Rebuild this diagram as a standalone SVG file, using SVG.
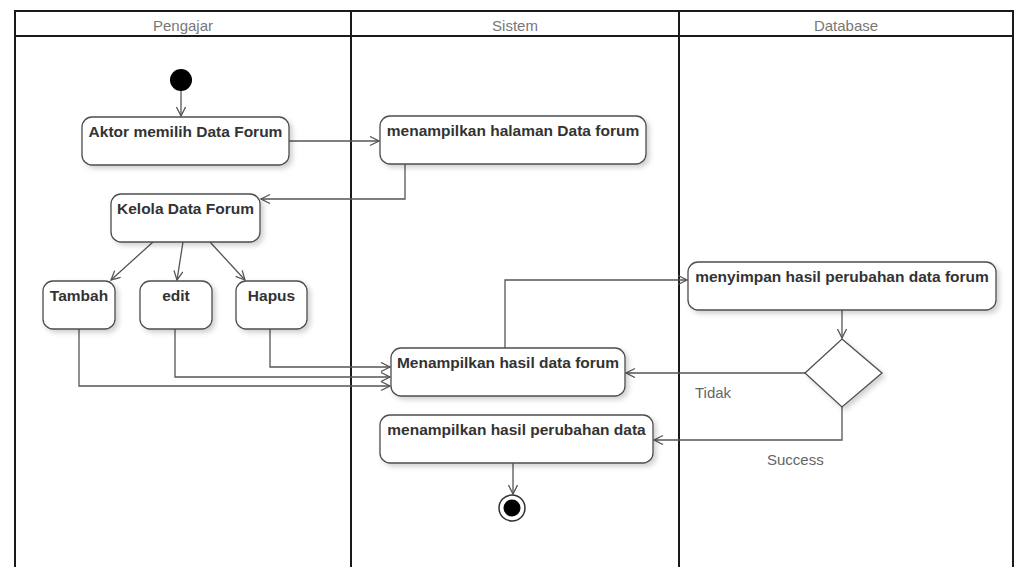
<svg xmlns="http://www.w3.org/2000/svg" width="1016" height="567" viewBox="0 0 1016 567">
  <style>
    .lane { fill: none; stroke: #1a1a1a; stroke-width: 2; }
    .lane-title { font-family: "Liberation Sans", Arial, sans-serif; font-size: 15px; fill: #777; text-anchor: middle; }
    .act { fill: #ffffff; stroke: #4d4d4d; stroke-width: 1.3; filter: url(#shadow); }
    .act-text { font-family: "Liberation Sans", Arial, sans-serif; font-size: 15.5px; font-weight: bold; fill: #333; text-anchor: middle; }
    .flow { fill: none; stroke: #555; stroke-width: 1.3; marker-end: url(#open-arrow); }
    .guard { font-family: "Liberation Sans", Arial, sans-serif; font-size: 15px; fill: #666; }
  </style>
  <defs>
    <marker id="open-arrow" markerWidth="12" markerHeight="12" refX="10" refY="5" orient="auto" markerUnits="userSpaceOnUse">
      <path d="M1,0.5 L10,5 L1,9.5" fill="none" stroke="#555" stroke-width="1.3"/>
    </marker>
    <filter id="shadow" x="-10%" y="-20%" width="130%" height="160%">
      <feDropShadow dx="3" dy="3" stdDeviation="2.5" flood-color="#000" flood-opacity="0.18"/>
    </filter>
  </defs>

  <rect width="1016" height="567" fill="#ffffff"/>

  <!-- swimlanes -->
  <g id="lanes">
    <rect class="lane" x="15" y="11" width="998" height="580"/>
    <line class="lane" x1="15" y1="36" x2="1013" y2="36"/>
    <line class="lane" x1="351" y1="11" x2="351" y2="591"/>
    <line class="lane" x1="679" y1="11" x2="679" y2="591"/>
    <text class="lane-title" x="183" y="31">Pengajar</text>
    <text class="lane-title" x="515" y="31">Sistem</text>
    <text class="lane-title" x="846" y="31">Database</text>
  </g>

  <!-- connectors -->
  <g id="connectors">
    <path class="flow" d="M181,91 L181,116"/>
    <path class="flow" d="M289,141 L379,141"/>
    <path class="flow" d="M405,164 L405,199 L261,199"/>
    <path class="flow" d="M153,242 L111,280"/>
    <path class="flow" d="M183,242 L177,280"/>
    <path class="flow" d="M210,242 L245,280"/>
    <path class="flow" d="M79,329 L79,386 L390,386"/>
    <path class="flow" d="M175,329 L175,377 L390,377"/>
    <path class="flow" d="M270,329 L270,367 L390,367"/>
    <path class="flow" d="M505,348 L505,280 L687,280"/>
    <path class="flow" d="M842,310 L842,338"/>
    <path class="flow" d="M805,373 L626,373"/>
    <path class="flow" d="M842,407 L842,440 L654,440"/>
    <path class="flow" d="M513,463 L513,494"/>
    <text class="guard" x="695" y="398">Tidak</text>
    <text class="guard" x="767" y="465">Success</text>
  </g>

  <!-- initial node -->
  <g id="start">
    <circle cx="181" cy="80" r="11" fill="#000"/>
  </g>

  <g id="aktor-memilih">
    <rect class="act" x="82" y="117" width="207" height="48" rx="10"/>
    <text class="act-text" x="185.5" y="137">Aktor memilih Data Forum</text>
  </g>

  <g id="menampilkan-halaman">
    <rect class="act" x="380" y="116" width="266" height="48" rx="10"/>
    <text class="act-text" x="513" y="136">menampilkan halaman Data forum</text>
  </g>

  <g id="kelola">
    <rect class="act" x="111" y="194" width="149" height="48" rx="10"/>
    <text class="act-text" x="185.5" y="214">Kelola Data Forum</text>
  </g>

  <g id="tambah">
    <rect class="act" x="43" y="281" width="72" height="48" rx="10"/>
    <text class="act-text" x="79" y="301">Tambah</text>
  </g>

  <g id="edit">
    <rect class="act" x="140" y="281" width="72" height="48" rx="10"/>
    <text class="act-text" x="176" y="301">edit</text>
  </g>

  <g id="hapus">
    <rect class="act" x="236" y="281" width="71" height="48" rx="10"/>
    <text class="act-text" x="271.5" y="301">Hapus</text>
  </g>

  <g id="menampilkan-hasil">
    <rect class="act" x="391" y="348" width="234" height="48" rx="10"/>
    <text class="act-text" x="508" y="368">Menampilkan hasil data forum</text>
  </g>

  <g id="menyimpan">
    <rect class="act" x="688" y="262" width="308" height="48" rx="10"/>
    <text class="act-text" x="842" y="282">menyimpan hasil perubahan data forum</text>
  </g>

  <g id="decision">
    <polygon class="act" points="842,339 882,373 842,407 805,373"/>
  </g>

  <g id="menampilkan-perubahan">
    <rect class="act" x="380" y="415" width="273" height="48" rx="10"/>
    <text class="act-text" x="516.5" y="435">menampilkan hasil perubahan data</text>
  </g>

  <!-- final node -->
  <g id="end">
    <circle cx="512" cy="508" r="13" fill="#fff" stroke="#333" stroke-width="1.5"/>
    <circle cx="512" cy="508" r="8.5" fill="#000"/>
  </g>
</svg>
